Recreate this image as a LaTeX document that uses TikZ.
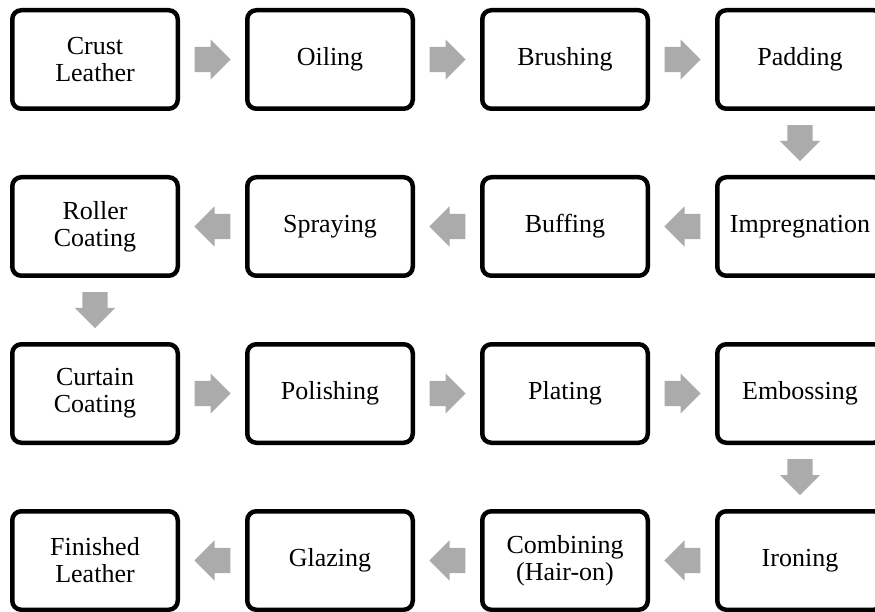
\documentclass[tikz,border=0pt]{standalone}
\usepackage{fontspec}
\setmainfont{Liberation Serif}
\usetikzlibrary{shapes.arrows,calc}

\begin{document}
\begin{tikzpicture}[x=1pt,y=-1pt]
    \tikzstyle{stage}=[draw=black, line width=4.5pt, rounded corners=9pt, fill=white, minimum width=165.5pt, minimum height=98.5pt, inner sep=2pt, align=center, font=\fontsize{26}{27}\selectfont]
    \tikzstyle{flow}=[single arrow, fill=black!33, draw=none, anchor=tail, minimum height=36pt, minimum width=40pt, single arrow head extend=7.5pt, inner xsep=0pt, inner ysep=12.5pt, text height=0pt, text depth=0pt]
    \tikzstyle{toright}=[flow, xshift=-18pt]
    \tikzstyle{toleft}=[flow, rotate=180, xshift=-18pt]
    \tikzstyle{todown}=[flow, rotate=-90, xshift=-18pt]
    \useasboundingbox (0,0) rectangle (875,612);
    % row 1
    \node[stage] (s1) at (95,59.5) {Crust\\Leather};
    \node[stage] (s2) at (330,59.5) {Oiling};
    \node[stage] (s3) at (565,59.5) {Brushing};
    \node[stage] (s4) at (800,59.5) {Padding};
    % row 2
    \node[stage] (s5) at (800,226.5) {Impregnation};
    \node[stage] (s6) at (565,226.5) {Buffing};
    \node[stage] (s7) at (330,226.5) {Spraying};
    \node[stage] (s8) at (95,226.5) {Roller\\Coating};
    % row 3
    \node[stage] (s9) at (95,393.5) {Curtain\\Coating};
    \node[stage] (s10) at (330,393.5) {Polishing};
    \node[stage] (s11) at (565,393.5) {Plating};
    \node[stage] (s12) at (800,393.5) {Embossing};
    % row 4
    \node[stage] (s13) at (800,560.5) {Ironing};
    \node[stage] (s14) at (565,560.5) {Combining\\(Hair-on)};
    \node[stage] (s15) at (330,560.5) {Glazing};
    \node[stage] (s16) at (95,560.5) {Finished\\Leather};
    % block arrows
    \node[toright] (f1) at ($(s1)!0.5!(s2)$) {};
    \node[toright] (f2) at ($(s2)!0.5!(s3)$) {};
    \node[toright] (f3) at ($(s3)!0.5!(s4)$) {};
    \node[todown] (f4) at ($(s4)!0.5!(s5)$) {};
    \node[toleft] (f5) at ($(s5)!0.5!(s6)$) {};
    \node[toleft] (f6) at ($(s6)!0.5!(s7)$) {};
    \node[toleft] (f7) at ($(s7)!0.5!(s8)$) {};
    \node[todown] (f8) at ($(s8)!0.5!(s9)$) {};
    \node[toright] (f9) at ($(s9)!0.5!(s10)$) {};
    \node[toright] (f10) at ($(s10)!0.5!(s11)$) {};
    \node[toright] (f11) at ($(s11)!0.5!(s12)$) {};
    \node[todown] (f12) at ($(s12)!0.5!(s13)$) {};
    \node[toleft] (f13) at ($(s13)!0.5!(s14)$) {};
    \node[toleft] (f14) at ($(s14)!0.5!(s15)$) {};
    \node[toleft] (f15) at ($(s15)!0.5!(s16)$) {};
  \end{tikzpicture}
\end{document}
